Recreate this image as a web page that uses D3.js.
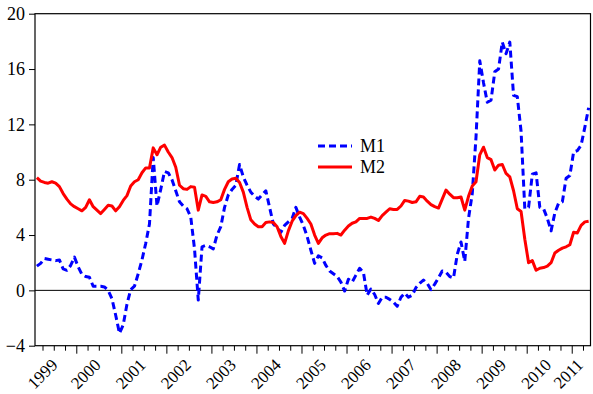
<!DOCTYPE html>
<html>
<head>
<meta charset="utf-8">
<script src="https://cdn.jsdelivr.net/npm/d3@7"></script>
<style>
  body { margin: 0; background: #fff; }
  svg { display: block; }
  text { font-family: "Liberation Serif", "Times New Roman", serif; fill: #000; }
</style>
</head>
<body>
<svg id="chart" width="593" height="394"></svg>
<script>
// Monthly growth rates (%), first observation 1999M02, last 2011M05
const startYear = 1999;
const startMonth = 2;

const m1 = [
  1.75, 1.95, 2.3, 2.25, 2.2, 2.15, 2.2, 1.55, 1.45, 1.8, 2.4, 1.7,
  1.15, 1.0, 0.95, 0.3, 0.3, 0.3, 0.25, 0.0, -0.6, -1.8, -3.1, -2.5,
  -1.0, 0.05, 0.3, 1.2, 2.2, 3.4, 4.8, 9.6, 6.1, 7.3, 8.6, 8.5,
  8.0, 7.2, 6.4, 6.1, 5.9, 5.3, 3.0, -0.7, 3.15, 3.25, 3.15, 3.0,
  4.0, 4.6, 6.0, 6.9, 7.3, 7.6, 9.1, 8.2, 7.6, 7.1, 6.8, 6.6,
  6.9, 7.2, 6.0, 4.8, 4.5, 4.2, 4.7, 4.95, 5.2, 6.0, 5.3, 4.7,
  3.9, 2.9, 1.95, 2.5, 2.35, 1.8, 1.4, 1.2, 1.0, 0.6, -0.05, 0.8,
  0.6, 1.1, 1.6, 1.3, -0.35, 0.1, -0.3, -0.95, -0.5, -0.5, -0.65, -0.85,
  -1.15, -0.5, -0.2, -0.5, -0.35, 0.2, 0.5, 0.75, 0.5, 0.05, 0.45, 0.9,
  1.4, 1.3, 1.0, 0.9, 2.6, 3.5, 2.1, 5.2, 7.0, 11.1, 16.6, 15.0,
  13.6, 13.75, 15.8, 16.0, 17.95, 17.1, 17.95, 14.1, 14.0, 11.5, 5.9, 6.0,
  8.4, 8.5, 6.0, 5.9, 5.2, 4.3, 5.6, 6.3, 6.4, 8.1, 8.3, 10.0,
  10.1, 10.5, 11.8, 13.2
];

const m2 = [
  8.15, 7.9, 7.8, 7.75, 7.85, 7.75, 7.5, 7.0, 6.6, 6.25, 6.05, 5.9,
  5.75, 6.0, 6.55, 6.05, 5.8, 5.55, 5.85, 6.15, 6.1, 5.75, 6.05, 6.5,
  6.85, 7.55, 7.85, 8.0, 8.5, 8.85, 8.85, 10.3, 9.8, 10.35, 10.5, 10.0,
  9.6, 8.9, 7.6, 7.35, 7.3, 7.5, 7.45, 5.8, 6.9, 6.8, 6.4, 6.35,
  6.4, 6.55, 7.3, 7.85, 8.05, 8.1, 7.8, 7.1, 6.0, 5.1, 4.8, 4.6,
  4.6, 4.9, 4.95, 4.9, 4.6, 3.9, 3.4, 4.3, 5.0, 5.4, 5.65, 5.55,
  5.2, 4.8, 4.0, 3.4, 3.8, 4.0, 4.1, 4.1, 4.12, 4.0, 4.35, 4.65,
  4.85, 4.95, 5.2, 5.2, 5.2, 5.3, 5.2, 5.05, 5.4, 5.65, 5.9, 5.85,
  5.85, 6.1, 6.5, 6.45, 6.35, 6.4, 6.8, 6.75, 6.45, 6.2, 6.05, 5.95,
  6.6, 7.25, 6.95, 6.7, 6.7, 6.75, 5.8, 6.8, 7.55, 7.85, 9.8, 10.35,
  9.6, 9.45, 8.7, 9.05, 9.1, 8.45, 8.2, 7.2, 5.9, 5.7, 3.7, 2.0,
  2.15, 1.45, 1.6, 1.65, 1.75, 2.0, 2.7, 2.9, 3.05, 3.15, 3.3, 4.2,
  4.15, 4.7, 4.95, 5.0
];

const yearLabels = ["1999", "2000", "2001", "2002", "2003", "2004", "2005",
                    "2006", "2007", "2008", "2009", "2010", "2011"];
const yTicks = [-4, 0, 4, 8, 12, 16, 20];
const seriesNames = ["M1", "M2"];
const seriesColors = ["#0000ff", "#ff0000"];

const svg = d3.select("#chart");
const plot = { left: 35, right: 590.5, top: 13.7, bottom: 345.7 };
const n = m1.length;

// each observation sits in the middle of its monthly slot
const x = d3.scaleLinear().domain([-0.5, n - 0.5]).range([plot.left, plot.right]);
const y = d3.scaleLinear().domain([-4, 20]).range([plot.bottom, plot.top]);

// quarter boundaries; January boundaries are the long ticks
const minorTicks = [], majorTicks = [];
for (let k = 1; k < n; k++) {
  const mon = (startMonth - 1 + k) % 12;
  if (mon % 3 === 0) (mon === 0 ? majorTicks : minorTicks).push(k - 0.5);
}

const xMinor = d3.axisBottom(x).tickValues(minorTicks).tickSize(5).tickFormat("");
const xMajor = d3.axisBottom(x).tickValues(majorTicks).tickSize(8).tickFormat("");
[xMinor, xMajor].forEach(ax => {
  const g = svg.append("g").attr("transform", `translate(0,${plot.bottom})`).call(ax);
  g.select(".domain").remove();
  g.selectAll("line").attr("stroke", "#000").attr("stroke-width", 1);
});

const yAxis = svg.append("g")
  .attr("transform", `translate(${plot.left},0)`)
  .call(d3.axisLeft(y).tickValues(yTicks).tickSize(6).tickPadding(4).tickFormat(d3.format("d")));
yAxis.select(".domain").remove();
yAxis.selectAll("line").attr("stroke", "#000").attr("stroke-width", 1);
yAxis.selectAll("text")
  .attr("font-family", "Liberation Serif, serif")
  .attr("font-size", 18)
  .attr("fill", "#000");

// year labels, centred on the visible part of each year
yearLabels.forEach((lab, j) => {
  const yr = +lab;
  const s = (yr - startYear) * 12 - (startMonth - 1) - 0.5;
  const a = Math.max(s, -0.5), b = Math.min(s + 12, n - 0.5);
  const cx = (x(a) + x(b)) / 2 + 3;
  svg.append("text")
    .attr("transform", `translate(${cx},366) rotate(-45)`)
    .attr("text-anchor", "end")
    .attr("font-size", 17)
    .text(lab);
});

// zero reference line
svg.append("line")
  .attr("x1", plot.left).attr("x2", plot.right)
  .attr("y1", y(0)).attr("y2", y(0))
  .attr("stroke", "#000").attr("stroke-width", 1);

// series
const line = d3.line().x((d, i) => x(i)).y(d => y(d));
svg.append("path").datum(m1)
  .attr("d", line).attr("fill", "none")
  .attr("stroke", seriesColors[0]).attr("stroke-width", 3)
  .attr("stroke-dasharray", "7,4").attr("stroke-linejoin", "round");
svg.append("path").datum(m2)
  .attr("d", line).attr("fill", "none")
  .attr("stroke", seriesColors[1]).attr("stroke-width", 3)
  .attr("stroke-linejoin", "round");

// frame
svg.append("rect")
  .attr("x", plot.left).attr("y", plot.top)
  .attr("width", plot.right - plot.left).attr("height", plot.bottom - plot.top)
  .attr("fill", "none").attr("stroke", "#000").attr("stroke-width", 1.2);

// legend
const legend = svg.append("g");
seriesNames.forEach((name, i) => {
  const ly = 146 + i * 21;
  legend.append("line")
    .attr("x1", 318).attr("x2", 352).attr("y1", ly).attr("y2", ly)
    .attr("stroke", seriesColors[i]).attr("stroke-width", 3)
    .attr("stroke-dasharray", i === 0 ? "7,4" : null);
  legend.append("text")
    .attr("x", 360).attr("y", ly).attr("dy", "0.35em")
    .attr("font-size", 18)
    .text(name);
});
</script>
</body>
</html>
